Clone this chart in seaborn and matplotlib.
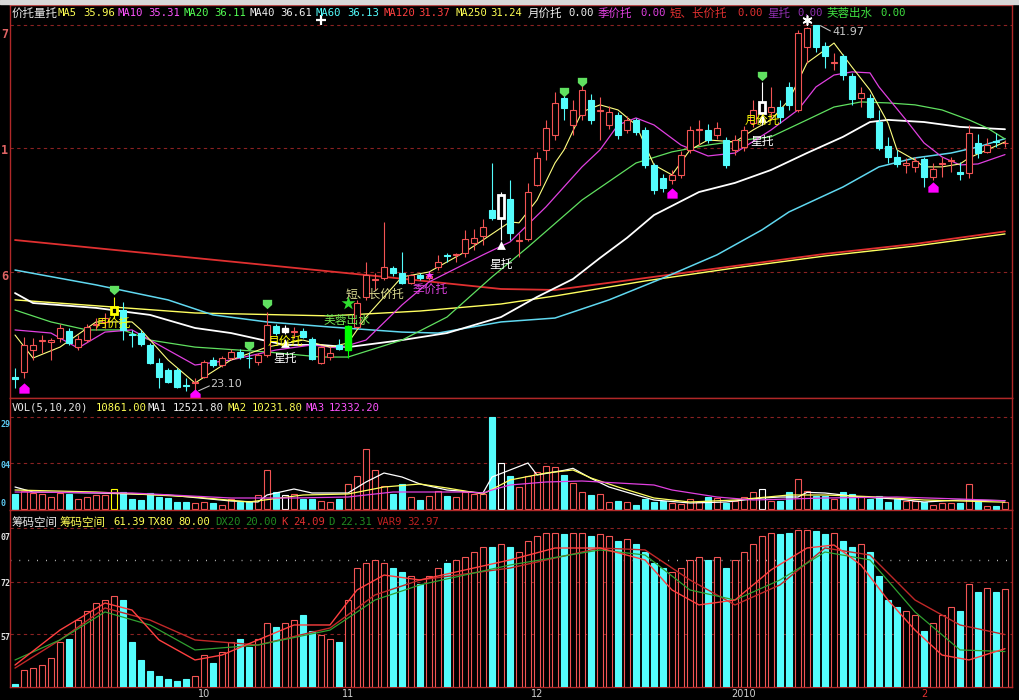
import matplotlib
matplotlib.use("Agg")
import matplotlib.pyplot as plt
import seaborn as sns
import numpy as np
from matplotlib.path import Path
from matplotlib.patches import Rectangle

# 價格 K 線數據 (index 0..110)
opens = [23.91, 24.16, 25.29, 25.75, 25.70, 25.91, 26.27, 25.44, 25.80, 26.57,
         26.73, 27.14, 27.34, 26.11, 26.16, 25.55, 24.62, 24.27, 24.27, 23.50,
         23.60, 23.91, 24.78, 24.52, 24.88, 25.19, 24.90, 24.68, 25.03, 26.52,
         26.21, 26.19, 26.27, 25.86, 24.62, 24.93, 25.55, 25.29, 26.47, 28.01,
         28.90, 28.98, 29.50, 29.24, 28.73, 29.14, 28.98, 29.55, 30.17, 30.17,
         30.27, 30.78, 31.14, 32.47, 32.06, 33.04, 30.90, 30.98, 33.75, 35.55,
         36.32, 38.21, 36.83, 37.34, 38.11, 37.55, 36.83, 37.34, 36.57, 37.09,
         36.57, 34.78, 34.11, 34.01, 34.27, 35.55, 36.55, 36.57, 36.32, 36.06,
         35.55, 35.70, 36.93, 37.45, 37.50, 37.75, 38.78, 37.60, 40.83, 41.96,
         40.88, 40.03, 40.37, 39.34, 38.21, 38.21, 36.98, 35.75, 35.19, 34.78,
         34.68, 35.09, 34.16, 34.83, 34.98, 34.40, 34.37, 35.91, 35.45, 36.00, 35.88]
closes = [23.80, 25.55, 25.55, 25.80, 25.80, 26.42, 25.65, 25.86, 26.47, 26.62,
          26.93, 27.50, 26.32, 26.06, 25.60, 24.62, 23.91, 23.65, 23.39, 23.45,
          23.65, 24.68, 24.52, 24.88, 25.19, 24.93, 24.86, 25.03, 26.57, 26.16,
          26.42, 26.24, 25.96, 24.83, 25.44, 25.14, 25.34, 26.52, 27.70, 29.14,
          28.95, 29.55, 29.24, 28.73, 29.14, 28.98, 29.10, 29.80, 30.12, 30.22,
          30.98, 31.04, 31.60, 32.06, 33.24, 31.29, 30.95, 33.39, 35.14, 36.68,
          37.96, 37.70, 37.60, 38.62, 37.09, 37.62, 37.50, 36.32, 37.09, 36.47,
          34.78, 33.50, 33.60, 34.27, 35.29, 36.57, 36.60, 36.06, 36.68, 34.78,
          36.06, 36.57, 37.60, 38.01, 37.75, 37.24, 37.86, 41.55, 41.80, 40.83,
          40.37, 40.08, 39.40, 38.16, 38.47, 37.24, 35.65, 35.19, 34.83, 34.88,
          34.98, 34.16, 34.57, 34.88, 35.03, 34.34, 36.42, 35.39, 35.80, 35.96, 35.92]
highs = [24.37, 25.96, 25.91, 26.06, 25.91, 26.62, 26.42, 26.06, 26.62, 26.93,
         27.19, 28.01, 27.75, 26.32, 26.30, 25.65, 24.88, 24.37, 24.37, 23.86,
         23.86, 24.78, 24.93, 24.98, 25.34, 25.34, 25.19, 25.14, 27.24, 26.62,
         26.57, 26.47, 26.40, 25.95, 25.50, 25.44, 25.86, 26.55, 27.86, 29.80,
         29.24, 31.86, 29.60, 30.32, 29.20, 29.25, 29.30, 30.17, 30.25, 30.27,
         31.45, 31.50, 32.01, 34.88, 33.39, 34.01, 31.29, 33.86, 35.45, 37.09,
         38.52, 38.62, 38.11, 38.88, 38.40, 38.26, 37.80, 37.50, 37.30, 37.20,
         36.70, 34.90, 34.30, 34.50, 35.50, 36.80, 37.09, 36.90, 37.00, 36.20,
         36.30, 36.80, 38.11, 39.04, 38.78, 38.11, 39.04, 41.70, 41.85, 41.97,
         41.09, 40.52, 40.45, 39.50, 38.78, 38.40, 37.60, 36.22, 35.55, 35.14,
         35.19, 35.20, 34.88, 35.19, 35.19, 34.93, 36.83, 36.37, 36.16, 36.42, 36.06]
lows = [23.34, 23.86, 24.78, 25.14, 24.78, 25.70, 25.55, 25.29, 25.70, 26.32,
        26.42, 26.93, 25.80, 25.44, 25.50, 24.55, 23.34, 23.60, 23.34, 23.20,
        23.10, 23.86, 24.42, 24.42, 24.78, 24.83, 24.37, 24.52, 24.93, 26.06,
        26.11, 25.91, 25.90, 24.78, 24.57, 24.78, 25.29, 24.88, 26.40, 27.86,
        28.37, 28.88, 29.10, 28.70, 28.65, 28.90, 28.90, 29.39, 29.80, 29.80,
        30.06, 30.42, 30.68, 31.96, 30.93, 30.93, 30.06, 30.88, 33.70, 35.03,
        36.06, 37.09, 36.32, 37.09, 36.90, 36.06, 36.60, 36.10, 36.40, 36.30,
        34.60, 33.30, 33.40, 33.80, 34.10, 35.40, 35.80, 35.90, 36.10, 34.60,
        35.30, 35.50, 36.73, 36.83, 37.09, 36.93, 37.60, 37.50, 40.01, 40.57,
        39.75, 39.65, 39.14, 37.86, 37.75, 37.19, 35.55, 34.88, 34.68, 34.37,
        34.42, 33.65, 34.01, 34.16, 34.42, 34.01, 34.11, 35.14, 35.39, 35.70, 35.70]

# 均線 (取樣點: K 線序號, 價格)
ma5_i = [0, 2, 5, 9, 13, 14, 17, 20, 24, 28, 32, 35, 37, 39, 43, 46, 50, 52, 55, 56, 58, 60, 61,
         63, 65, 67, 69, 71, 73, 75, 77, 80, 82, 84, 86, 88, 90, 91, 93, 95, 97, 98, 100, 101,
         103, 105, 106, 108, 110]
ma5_v = [26.06, 24.88, 25.44, 26.73, 26.73, 26.32, 24.78, 23.60, 24.78, 25.44, 25.80, 25.44,
         25.65, 26.98, 29.04, 29.29, 30.32, 30.93, 31.86, 31.81, 32.98, 34.88, 35.55, 37.50,
         37.86, 37.60, 36.83, 34.78, 34.27, 35.55, 36.06, 35.96, 36.57, 37.09, 38.11, 40.01,
         40.68, 41.03, 39.80, 38.62, 36.93, 35.55, 35.03, 34.68, 34.68, 34.83, 35.14, 35.55, 35.96]
ma10_i = [0, 4, 7, 10, 13, 17, 20, 24, 29, 33, 36, 39, 43, 46, 52, 55, 59, 63, 65, 67, 69, 71,
          74, 77, 80, 84, 87, 89, 91, 93, 95, 96, 99, 101, 103, 105, 107, 110]
ma10_v = [26.32, 26.16, 25.39, 26.21, 26.32, 25.29, 24.52, 24.78, 25.29, 25.55, 25.39, 25.80,
          27.60, 28.78, 30.17, 30.83, 32.63, 34.68, 35.55, 36.83, 37.19, 36.83, 35.80, 35.24,
          35.39, 36.57, 37.60, 38.78, 39.39, 39.55, 39.50, 38.78, 37.09, 35.91, 35.19, 34.78,
          34.83, 35.31]
ma20_i = [0, 4, 8, 12, 15, 20, 28, 34, 37, 43, 48, 53, 57, 63, 69, 73, 77, 81, 84, 88, 91, 94,
          97, 100, 103, 106, 108, 110]
ma20_v = [27.34, 26.73, 26.32, 26.32, 25.80, 25.44, 25.19, 24.93, 24.93, 25.80, 26.98, 29.04,
          30.57, 32.98, 34.88, 35.45, 35.80, 36.06, 36.22, 37.09, 37.75, 38.01, 37.96, 37.86,
          37.60, 37.09, 36.68, 36.11]
ma40_i = [0, 2, 9, 15, 20, 24, 30, 34, 37, 43, 48, 54, 58, 62, 65, 68, 71, 76, 80, 84, 88, 92,
          95, 97, 101, 105, 110]
ma40_v = [28.21, 27.70, 27.45, 27.09, 26.42, 26.16, 25.55, 25.55, 25.44, 25.80, 26.16, 26.98,
          28.01, 28.93, 30.01, 31.04, 32.21, 33.39, 33.86, 34.52, 35.39, 36.22, 36.98, 37.09,
          36.98, 36.73, 36.61]
ma60_i = [0, 9, 17, 22, 28, 35, 43, 47, 54, 60, 66, 72, 78, 83, 86, 92, 96, 100, 104, 107, 110]
ma60_v = [29.39, 28.63, 27.86, 27.09, 26.73, 26.47, 26.21, 26.16, 26.73, 26.93, 27.86, 28.98,
          30.17, 31.45, 32.37, 33.65, 34.68, 35.14, 35.39, 35.70, 36.13]
ma120_i = [0, 20, 40, 54, 60, 70, 80, 90, 100, 110]
ma120_v = [30.93, 30.01, 29.09, 28.42, 28.37, 28.98, 29.60, 30.22, 30.73, 31.37]
ma250_i = [0, 20, 35, 45, 54, 60, 70, 80, 90, 100, 110]
ma250_v = [27.86, 27.19, 27.04, 27.29, 27.65, 28.06, 28.83, 29.50, 30.11, 30.62, 31.24]

# 成交量 (千手)
volume = [22.5, 27, 24, 22.5, 18, 24, 22.5, 15, 18, 21,
          21, 30, 25.5, 15, 13.5, 24, 18, 16.5, 10.5, 10.5,
          9, 10.5, 9, 6, 15, 10.5, 10.5, 21, 58.5, 25.5,
          21, 22.5, 15, 15, 12, 10.5, 15, 37.5, 49.5, 90,
          58.5, 34.5, 22.5, 37.5, 18, 13.5, 19.5, 27, 19.5, 18,
          25.5, 22.5, 22.5, 138, 69, 49.5, 33, 49.5, 55.5, 64.5,
          63, 51, 39, 25.5, 21, 22.5, 10.5, 12, 10.5, 6,
          15, 10.5, 12, 9, 7.5, 15, 10.5, 18, 16.5, 9,
          12, 18, 25.5, 30, 12, 12, 25.5, 45, 27, 19.5,
          19.5, 15, 25.5, 22.5, 19.5, 15, 19.5, 10.5, 15, 12,
          12, 10.5, 6, 9, 9, 9, 37.5, 12, 4.5, 4.5, 10.86]
vma1_i = [0, 2, 9, 17, 24, 27, 28, 31, 33, 37, 39, 41, 43, 45, 48, 52, 53, 55, 57, 58, 61, 62,
          64, 66, 69, 71, 75, 79, 83, 85, 87, 88, 90, 94, 98, 101, 105, 110]
vma1_v = [33, 25.5, 24, 21, 12, 10.5, 21, 30, 24, 24, 40.5, 54, 48, 37.5, 28.5, 24, 48, 58.5,
          69, 51, 58, 61, 46, 33, 21, 13.5, 9, 10.5, 16.5, 18, 18, 25, 24, 18, 15, 10.5, 13.5,
          12.52]
vma2_i = [0, 9, 20, 26, 32, 37, 41, 45, 48, 52, 55, 59, 62, 64, 67, 71, 75, 80, 86, 90, 96,
          101, 110]
vma2_v = [28.5, 25.5, 18, 10.5, 21, 22.5, 33, 37.5, 31.5, 22.5, 43.5, 54, 58.5, 46.5, 33, 16.5,
          10.5, 13.5, 21, 21, 18, 13.5, 10.23]
vma3_i = [0, 13, 24, 31, 37, 42, 50, 52, 53, 55, 59, 63, 67, 71, 73, 78, 82, 90, 98, 105, 110]
vma3_v = [25.5, 24, 16.5, 16.5, 18, 25.5, 25.5, 24, 28.5, 36, 40.5, 42, 39, 36, 28.5, 18, 13.5,
          16.5, 18, 15, 12.33]

# 筹码空间 指標
chip = [2, 11, 12, 14, 18, 28, 30, 42, 48, 53, 55, 57, 55, 28, 17, 10, 7, 5, 4, 5,
        7, 20, 15, 22, 28, 30, 25, 30, 40, 38, 40, 42, 45, 35, 33, 30, 28, 55, 75, 78,
        80, 78, 75, 72, 70, 65, 70, 75, 78, 80, 82, 85, 88, 88, 90, 88, 85, 92, 95, 97,
        97, 96, 97, 97, 95, 96, 95, 92, 93, 90, 85, 78, 75, 72, 75, 80, 82, 80, 82, 75,
        80, 85, 90, 95, 97, 96, 97, 99, 99, 98, 96, 97, 92, 88, 90, 85, 70, 55, 50, 48,
        45, 35, 40, 45, 50, 48, 65, 60, 62, 60, 61.39]
k_i = [0, 5, 10, 13, 16, 20, 23, 27, 31, 35, 38, 41, 45, 50, 55, 60, 65, 70, 73, 76, 80, 84,
       88, 91, 94, 97, 100, 103, 106, 110]
k_v = [13.8, 35.8, 52.8, 48.4, 29.6, 17.0, 20.1, 29.6, 39.0, 39.0, 61.0, 70.4, 67.3, 73.6,
       79.9, 87.4, 87.4, 79.9, 61.0, 51.6, 54.7, 73.6, 87.4, 89.3, 76.7, 54.7, 35.8, 20.1, 17.0,
       24.09]
d_i = [0, 5, 10, 15, 20, 27, 35, 40, 45, 55, 65, 70, 75, 80, 85, 90, 95, 100, 105, 110]
d_v = [17.0, 29.6, 47.2, 39.0, 23.3, 26.4, 35.8, 54.7, 64.2, 76.7, 86.2, 83.0, 61.0, 54.7,
       67.3, 84.9, 79.9, 47.2, 23.3, 22.31]
var9_i = [0, 5, 10, 15, 20, 27, 35, 40, 45, 55, 65, 70, 75, 80, 85, 90, 95, 100, 105, 110]
var9_v = [11.9, 29.6, 49.7, 42.1, 29.6, 26.4, 37.1, 57.9, 67.3, 74.8, 87.4, 86.2, 67.3, 51.6,
          64.2, 87.4, 83.0, 54.7, 39.0, 32.97]

month_pos = [21, 37, 58, 81, 101]
month_lab = ["10", "11", "12", "2010", "2"]

# ---------------------------------------------------------------
sns.set_theme(style="dark", rc={"axes.facecolor": "black", "figure.facecolor": "black"})
plt.rcParams["font.family"] = ["Noto Sans CJK SC", "DejaVu Sans"]
plt.rcParams["axes.unicode_minus"] = False

W, H = 1019, 700
RED = "#f25454"
CYAN = "#54fcfc"
BORDER = "#b02828"
GRID = "#8a2222"
MONO = ["DejaVu Sans Mono", "Noto Sans CJK SC"]
CJK = ["Noto Sans CJK SC", "DejaVu Sans"]

fig = plt.figure(figsize=(W / 100, H / 100), dpi=100, facecolor="black")


def panel(top, bottom):
    ax = fig.add_axes([10 / W, 1 - bottom / H, 1002 / W, (bottom - top) / H])
    ax.set_facecolor("black")
    for s in ax.spines.values():
        s.set_color(BORDER)
        s.set_linewidth(1.0)
    ax.set_xticks([])
    ax.set_yticks([])
    ax.grid(False)
    ax.set_xlim(-0.556, 110.78)
    return ax


def ftxt(x, y, s, color, size=8, family=MONO, **kw):
    fig.text(x / W, 1 - y / H, s, color=color, fontsize=size, family=family,
             va="center", ha=kw.pop("ha", "left"), **kw)


def hline(ax, v, style=(0, (3, 3)), color=GRID):
    ax.axhline(v, color=color, lw=0.8, linestyle=style, zorder=0)


ax_p = panel(5, 398)
ax_v = panel(398, 510)
ax_b = panel(510, 687)
ax_p.set_ylim(22.83, 42.98)
ax_v.set_ylim(-1.5, 166.5)
ax_b.set_ylim(0, 111.3)

x = np.arange(len(opens))
o, c, h, l = map(np.array, (opens, closes, highs, lows))
up = c >= o
lo = np.minimum(o, c)
hi = np.maximum(o, c)
cols = np.where(up, RED, CYAN)

# 特殊 K 線顏色
special = {11: ("#ffff00", "black", 2.0), 30: ("white", "white", 1.0),
           37: ("#00ff00", "#00ff00", 1.0), 54: ("white", "black", 2.0),
           83: ("white", "black", 2.0)}
edge = list(cols)
face = [("black" if u else CYAN) for u in up]
lws = [0.8] * len(x)
for k, (ec, fc, lw) in special.items():
    edge[k], face[k], lws[k] = ec, fc, lw

# 均線
for xi, yv, col, lw in [(ma250_i, ma250_v, "#ffff60", 1.0), (ma120_i, ma120_v, "#e03030", 1.3),
                        (ma60_i, ma60_v, "#60d8f0", 1.1), (ma40_i, ma40_v, "white", 1.3),
                        (ma20_i, ma20_v, "#60e060", 0.9), (ma10_i, ma10_v, "#e040e0", 0.9),
                        (ma5_i, ma5_v, "#ffff80", 0.8)]:
    sns.lineplot(x=xi, y=yv, ax=ax_p, color=col, lw=lw, estimator=None, sort=False, zorder=2)

ax_p.vlines(x, hi, h, colors=edge, lw=0.8, zorder=3)
ax_p.vlines(x, l, lo, colors=edge, lw=0.8, zorder=3)
ax_p.bar(x, np.maximum(hi - lo, 0.04), bottom=lo, width=0.72, color=face,
         edgecolor=edge, linewidth=lws, zorder=4)

for v in (41.96, 35.65, 29.29):
    hline(ax_p, v)

# 標記
pent_dn = Path([(-1, 1), (1, 1), (1, -0.1), (0, -1), (-1, -0.1), (-1, 1)])
pent_up = Path([(-1, -1), (1, -1), (1, 0.1), (0, 1), (-1, 0.1), (-1, -1)])
ax_p.scatter([11, 26, 28, 61, 63, 83], [28.37, 25.50, 27.65, 38.52, 39.04, 39.34],
             marker=pent_dn, s=45, color="#60e060", zorder=6, linewidths=0)
ax_p.scatter([1, 20, 73, 102], [23.34, 23.04, 33.34, 33.65], marker=pent_up, s=55,
             color="#ff00ff", zorder=6, linewidths=0)
ax_p.scatter([46], [29.14], marker="*", s=45, color="#ff40ff", zorder=6, linewidths=0)
ax_p.scatter([37], [27.70], marker="*", s=110, color="#30e030", zorder=6, linewidths=0)
ax_p.scatter([30, 54, 83], [25.65, 30.68, 37.19], marker="^", s=40, color="white",
             zorder=6, linewidths=0)
ax_p.scatter([88], [42.21], marker=(6, 2, 0), s=40, color="white", zorder=6, linewidths=1.2)
ax_p.scatter([34], [42.21], marker="+", s=45, color="white", zorder=6, linewidths=1.6)

for xi, yv, s, col in [(10.9, 26.68, "月价托", "#ffff00"), (30, 25.75, "月价托", "#ffff00"),
                       (30, 24.88, "星托", "white"), (40, 28.16, "短、长价托", "#d8d890"),
                       (46.1, 28.42, "季价托", "#e040e0"), (36.9, 26.78, "芙蓉出水", "#70e050"),
                       (54, 29.65, "星托", "white"), (83, 37.09, "月价托", "#ffff00"),
                       (83, 35.96, "星托", "white")]:
    ax_p.text(xi, yv, s, color=col, fontsize=8.5, family=CJK, ha="center", va="center", zorder=7)

ax_p.plot([20.4, 21.6], [23.20, 23.45], color="#c0c0c0", lw=0.8)
ax_p.text(21.7, 23.55, "23.10", color="#c8c8c8", fontsize=8, family=["DejaVu Sans"], va="center")
ax_p.plot([89.5, 90.6], [41.92, 41.65], color="#c0c0c0", lw=0.8)
ax_p.text(90.8, 41.60, "41.97", color="#c8c8c8", fontsize=8, family=["DejaVu Sans"], va="center")

# 成交量
ax_v.bar(x, volume, width=0.74, color=[("black" if u else CYAN) for u in up],
         edgecolor=edge, linewidth=0.8, zorder=3)
ax_v.bar([37], [volume[37]], width=0.74, color="black", edgecolor=RED, linewidth=0.8, zorder=3)
for xi, yv, col in [(vma1_i, vma1_v, "white"), (vma2_i, vma2_v, "#ffff60"),
                    (vma3_i, vma3_v, "#e040e0")]:
    sns.lineplot(x=xi, y=yv, ax=ax_v, color=col, lw=0.9, estimator=None, sort=False, zorder=4)
for v in (138, 69):
    hline(ax_v, v)

# 筹码空间
ax_b.bar(x, chip, width=0.74, color=[("black" if u else CYAN) for u in up],
         edgecolor=[(RED if u else CYAN) for u in up], linewidth=0.8, zorder=3)
for xi, yv, col, lw in [(var9_i, var9_v, "#c02828", 1.0), (d_i, d_v, "#30a030", 0.9),
                        (k_i, k_v, "#ff4040", 1.0)]:
    sns.lineplot(x=xi, y=yv, ax=ax_b, color=col, lw=lw, estimator=None, sort=False, zorder=4)
for v in (100, 66.0, 33.3):
    hline(ax_b, v)
ax_b.axhline(80, color="#d0d0d0", lw=1.0, linestyle=(0, (0.6, 5.8)), zorder=1)

# 頂部選單條
fig.patches.append(Rectangle((0, 1 - 4 / H), 1, 4 / H, transform=fig.transFigure,
                             color="#d8d8d8", zorder=0))

# 標題列
for px, s, col, fam in [(12, "价托量托", "#e8e8e8", CJK), (58, "MA5", "#ffff54", MONO),
                        (83, "35.96", "#ffff54", MONO), (118, "MA10", "#ff54ff", MONO),
                        (148, "35.31", "#ff54ff", MONO), (184, "MA20", "#54ff54", MONO),
                        (214, "36.11", "#54ff54", MONO), (250, "MA40", "#f0f0f0", MONO),
                        (280, "36.61", "#f0f0f0", MONO), (316, "MA60", "#54ffff", MONO),
                        (347, "36.13", "#54ffff", MONO), (383, "MA120", "#ff4040", MONO),
                        (418, "31.37", "#ff4040", MONO), (455, "MA250", "#ffff54", MONO),
                        (490, "31.24", "#ffff54", MONO), (528, "月价托", "#f0f0f0", CJK),
                        (568, "0.00", "#f0f0f0", MONO), (598, "季价托", "#e040e0", CJK),
                        (640, "0.00", "#e040e0", MONO), (670, "短、长价托", "#e03030", CJK),
                        (737, "0.00", "#e03030", MONO), (767, "星托", "#9030b0", CJK),
                        (797, "0.00", "#9030b0", MONO), (827, "芙蓉出水", "#40e040", CJK),
                        (880, "0.00", "#40e040", MONO)]:
    ftxt(px, 13, s, col, size=8.3 if fam is CJK else 7.6, family=fam)

for px, s, col in [(12, "VOL(5,10,20)", "#e8e8e8"), (96, "10861.00", "#ffff54"),
                   (148, "MA1", "#f0f0f0"), (173, "12521.80", "#f0f0f0"),
                   (227, "MA2", "#ffff54"), (252, "10231.80", "#ffff54"),
                   (305, "MA3", "#ff54ff"), (329, "12332.20", "#ff54ff")]:
    ftxt(px, 408, s, col, size=7.6)

for px, s, col, fam in [(11, "筹码空间", "#e8e8e8", CJK), (59, "筹码空间", "#ffff54", CJK),
                        (113, "61.39", "#ffff54", MONO), (148, "TX80", "#ffff54", MONO),
                        (178, "80.00", "#ffff54", MONO), (215, "DX20", "#208a20", MONO),
                        (245, "20.00", "#208a20", MONO), (281, "K", "#e03030", MONO),
                        (293, "24.09", "#e03030", MONO), (328, "D", "#208a20", MONO),
                        (340, "22.31", "#208a20", MONO), (377, "VAR9", "#c02020", MONO),
                        (407, "32.97", "#c02020", MONO)]:
    ftxt(px, 522, s, col, size=8.3 if fam is CJK else 7.6, family=fam)

# 左側刻度 (截斷)
for py, s in [(35, "7"), (150, "1"), (276, "6")]:
    ftxt(1, py, s, "#e06464", size=8.5, weight="bold")
for py, s in [(425, "29"), (465, "04"), (503, "0")]:
    ftxt(0.5, py, s, "#5cc8f0", size=6, weight="bold")
for py, s in [(537, "07"), (583, "72"), (637, "57")]:
    ftxt(0.5, py, s, "#e0e0e0", size=6, weight="bold")

# 月份
for pos, lab in zip(month_pos, month_lab):
    px = 15 + 9 * pos
    ftxt(px, 694, lab, "#e03030" if lab == "2" else "#d0d0d0", size=7, ha="center",
         family=["DejaVu Sans"])

fig.savefig("out.png", dpi=100, facecolor="black")
